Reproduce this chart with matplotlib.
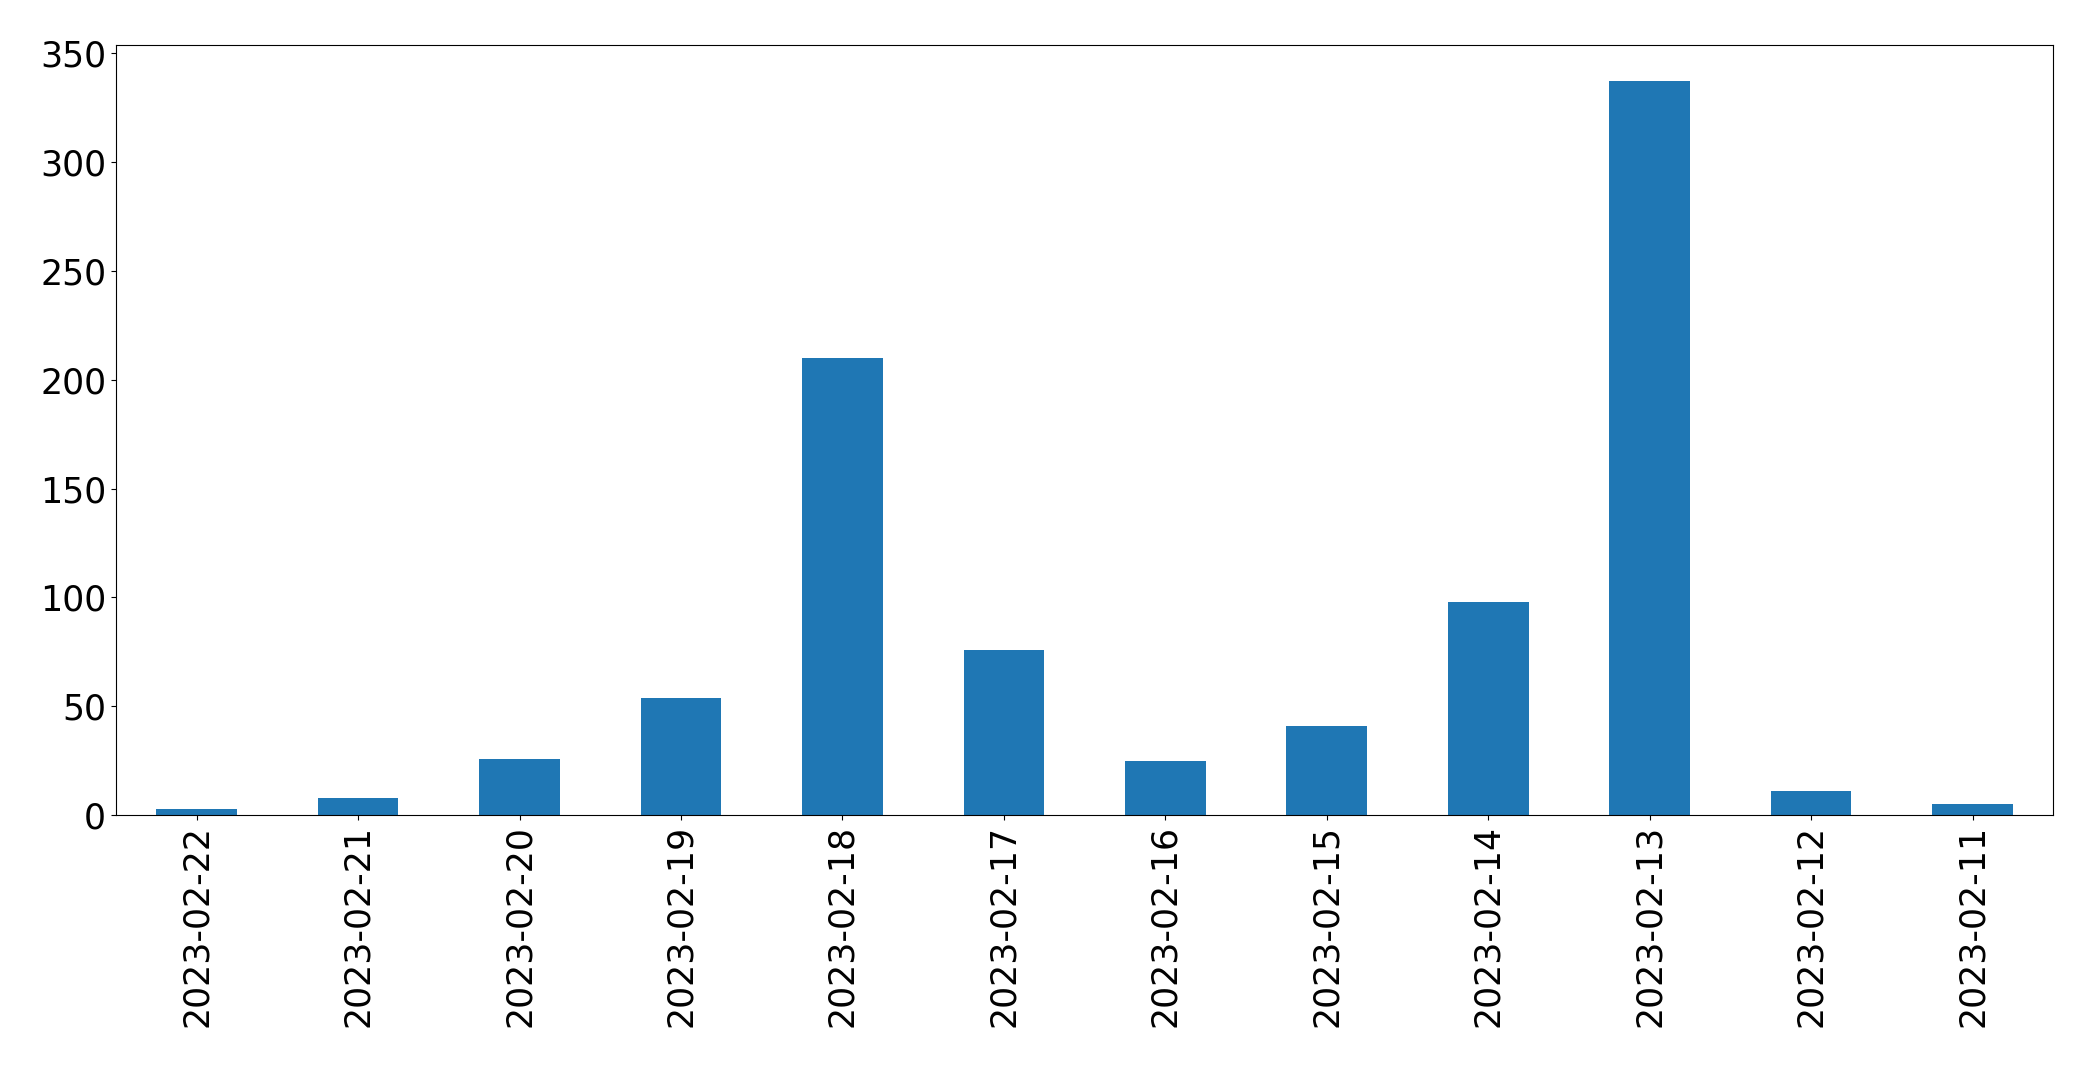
import matplotlib
matplotlib.use("Agg")
import matplotlib.pyplot as plt
import pandas as pd

dates = ["2023-02-22", "2023-02-21", "2023-02-20", "2023-02-19", "2023-02-18",
         "2023-02-17", "2023-02-16", "2023-02-15", "2023-02-14", "2023-02-13",
         "2023-02-12", "2023-02-11"]
counts = [3, 8, 26, 54, 210, 76, 25, 41, 98, 337, 11, 5]

s = pd.Series(counts, index=dates)

fig = plt.figure(figsize=(20.93, 10.67), dpi=100)
ax = fig.add_axes([0.0554, 0.236, 0.9256, 0.722])
s.plot(kind="bar", ax=ax, color="#1f77b4", fontsize=25)
ax.tick_params(labelsize=25)
fig.savefig("out.png", dpi=100)
